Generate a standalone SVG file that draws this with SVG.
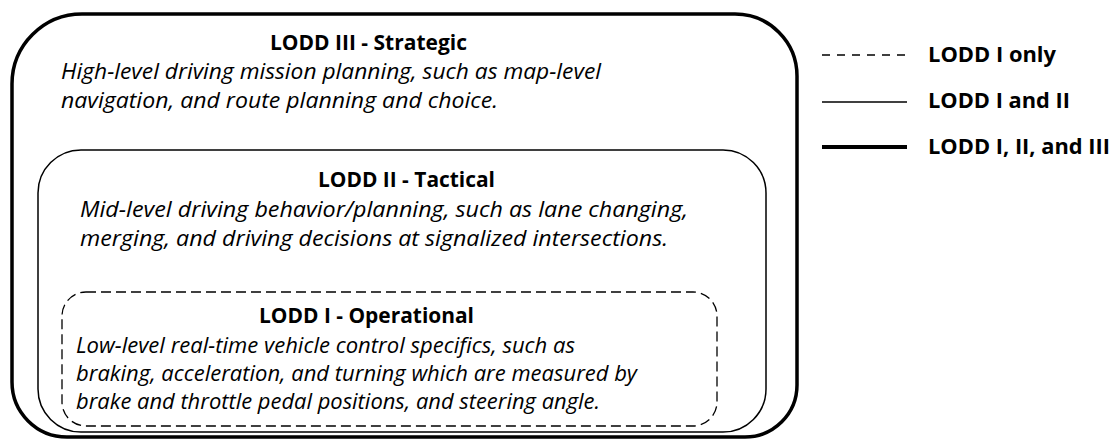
<svg xmlns="http://www.w3.org/2000/svg" width="1117" height="441" viewBox="0 0 1117 441">
  <style>
    .title { font-family: "Open Sans", "Liberation Sans", sans-serif; font-weight: bold; font-size: 21px; fill: #000; }
    .body { font-family: "Open Sans", "Liberation Sans", sans-serif; font-style: italic; font-size: 21px; fill: #000; }
    .outer { fill: none; stroke: #000; stroke-width: 3.5; }
    .mid { fill: none; stroke: #000; stroke-width: 1.5; }
    .dash { fill: none; stroke: #000; stroke-width: 1.3; stroke-dasharray: 10 5; }
    .ldash { stroke: #000; stroke-width: 1.3; stroke-dasharray: 8 7; }
    .lthin { stroke: #000; stroke-width: 1.5; }
    .lthick { stroke: #000; stroke-width: 4; }
  </style>
  <rect width="1117" height="441" fill="#fff"/>
  <g id="lodd3">
    <path class="outer" d="M82,14 H735 A62,62 0 0 1 797,76 V385 A52,52 0 0 1 745,437 H67 A55,55 0 0 1 12,382 V84 A70,70 0 0 1 82,14 Z"/>
    <text class="title" x="270" y="50" textLength="197" lengthAdjust="spacingAndGlyphs">LODD III - Strategic</text>
    <text class="body" x="61" y="79" textLength="540" lengthAdjust="spacingAndGlyphs">High-level driving mission planning, such as map-level</text>
    <text class="body" x="61" y="108" textLength="437" lengthAdjust="spacingAndGlyphs">navigation, and route planning and choice.</text>
  </g>
  <g id="lodd2">
    <rect class="mid" x="38" y="150" width="728" height="282" rx="43" ry="43"/>
    <text class="title" x="318" y="187" textLength="177" lengthAdjust="spacingAndGlyphs">LODD II - Tactical</text>
    <text class="body" x="80" y="217" textLength="608" lengthAdjust="spacingAndGlyphs">Mid-level driving behavior/planning, such as lane changing,</text>
    <text class="body" x="80" y="246" textLength="588" lengthAdjust="spacingAndGlyphs">merging, and driving decisions at signalized intersections.</text>
  </g>
  <g id="lodd1">
    <rect class="dash" x="62" y="292" width="655" height="134" rx="24" ry="24"/>
    <text class="title" x="259" y="323" textLength="215" lengthAdjust="spacingAndGlyphs">LODD I - Operational</text>
    <text class="body" x="76" y="353" textLength="499" lengthAdjust="spacingAndGlyphs">Low-level real-time vehicle control specifics, such as</text>
    <text class="body" x="76" y="381" textLength="561" lengthAdjust="spacingAndGlyphs">braking, acceleration, and turning which are measured by</text>
    <text class="body" x="76" y="409" textLength="524" lengthAdjust="spacingAndGlyphs">brake and throttle pedal positions, and steering angle.</text>
  </g>
  <g id="legend">
    <line class="ldash" x1="822" y1="55" x2="907" y2="55"/>
    <line class="lthin" x1="822" y1="102" x2="907" y2="102"/>
    <line class="lthick" x1="822" y1="147" x2="907" y2="147"/>
    <text class="title" x="928" y="62" textLength="128" lengthAdjust="spacingAndGlyphs">LODD I only</text>
    <text class="title" x="928" y="108" textLength="142" lengthAdjust="spacingAndGlyphs">LODD I and II</text>
    <text class="title" x="928" y="154" textLength="182" lengthAdjust="spacingAndGlyphs">LODD I, II, and III</text>
  </g>
  <g id="connectors"></g>
</svg>
